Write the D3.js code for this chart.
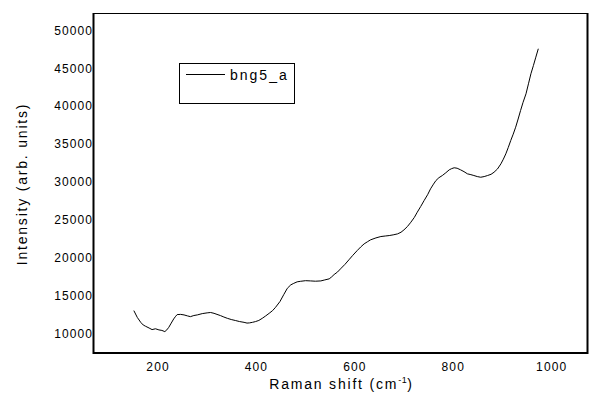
<!DOCTYPE html>
<html>
<head>
<meta charset="utf-8">
<script src="https://cdn.jsdelivr.net/npm/d3@7"></script>
<style>
  body { margin: 0; background: #fff; }
  text { font-family: "Liberation Sans", Arial, sans-serif; fill: #000; }
</style>
</head>
<body>
<script>
// values (Raman shift, intensity)
var shift = [153, 160, 167, 172, 177, 184, 190, 197, 204, 210, 216, 220, 224, 229, 234, 238, 241, 248, 255, 262, 268, 275, 282, 292, 302, 309, 316, 322,
  329, 336, 343, 351, 360, 368, 377, 383, 388, 394, 400, 407, 414, 421, 428, 435, 441, 450, 458, 465, 472, 478, 485, 492, 502, 512, 522,
  533, 541, 550, 555, 560, 567, 573, 582, 590, 598, 607, 614, 621, 628, 634, 645, 655, 664, 672, 680, 689, 696, 702, 709, 716, 723,
  729, 736, 743, 750, 756, 762, 767, 773, 780, 787, 794, 799, 804, 810, 817, 824, 831, 838, 844, 851, 858, 865, 872, 879, 885,
  892, 899, 904, 909, 914, 919, 924, 929, 934, 939, 944, 950, 955, 960, 965, 970, 975];
var intensity = [13000, 12100, 11450, 11100, 10925, 10700, 10490, 10600, 10450, 10380, 10225, 10450, 10790, 11350, 11900, 12250, 12470, 12500, 12430, 12300, 12200, 12350, 12430, 12600, 12700, 12750, 12640, 12500,
  12340, 12150, 11980, 11820, 11680, 11550, 11450, 11350, 11375, 11450, 11545, 11700, 11980, 12300, 12640, 13000, 13435, 14200, 15150, 15950, 16400, 16600, 16800, 16870, 16950, 16920, 16880,
  16920, 17050, 17190, 17450, 17760, 18100, 18510, 19100, 19700, 20300, 20930, 21400, 21810, 22100, 22340, 22600, 22780, 22850, 22910, 23000, 23130, 23350, 23660, 24100, 24670, 25300,
  25990, 26750, 27540, 28300, 29080, 29700, 30180, 30550, 30840, 31200, 31590, 31750, 31860, 31800, 31590, 31350, 31060, 30950, 30840, 30700, 30610, 30700, 30840, 31000, 31270,
  31700, 32380, 33000, 33700, 34550, 35460, 36300, 37220, 38300, 39430, 40500, 41630, 42950, 44280, 45350, 46470, 47580];
var xTicks = [200, 400, 600, 800, 1000];
var yTicks = [10000, 15000, 20000, 25000, 30000, 35000, 40000, 45000, 50000];
var seriesName = "bng5_a";

var width = 606,
    height = 400;
var margin = { left: 93, top: 13, right: 18, bottom: 47 };

var svg = d3.select("body")
    .append("svg")
    .attr("width", width)
    .attr("height", height);

var x = d3.scaleLinear()
    .domain([70, 1076])
    .range([margin.left, width - margin.right]);

var y = d3.scaleLinear()
    .domain([7400, 52300])
    .range([height - margin.bottom, margin.top]);

var points = shift.map(function(d, i) { return [d, intensity[i]]; });

// frame: thin top, heavier left/bottom/right
svg.append("line")
    .attr("x1", x.range()[0]).attr("x2", x.range()[1])
    .attr("y1", margin.top + 0.5).attr("y2", margin.top + 0.5)
    .attr("stroke", "#000").attr("stroke-width", 1);

svg.append("path")
    .attr("d", "M" + (x.range()[0] + 0.5) + "," + margin.top +
        "V" + (height - margin.bottom) +
        "H" + (x.range()[1] - 0.5) +
        "V" + margin.top)
    .attr("fill", "none")
    .attr("stroke", "#000")
    .attr("stroke-width", 2);

// x tick labels
svg.append("g")
    .attr("transform", "translate(0," + (height - margin.bottom) + ")")
    .call(d3.axisBottom(x).tickValues(xTicks).tickSize(0).tickPadding(9).tickFormat(d3.format("d")))
    .call(function(g) { g.select(".domain").remove(); })
    .selectAll("text")
    .attr("dx", "0.55px")
    .style("font-family", "Liberation Sans, Arial, sans-serif")
    .style("font-size", "12px")
    .style("letter-spacing", "1.1px");

// y tick labels
svg.append("g")
    .attr("transform", "translate(" + margin.left + ",0)")
    .call(d3.axisLeft(y).tickValues(yTicks).tickSize(0).tickPadding(0).tickFormat(d3.format("d")))
    .call(function(g) { g.select(".domain").remove(); })
    .selectAll("text")
    .style("font-family", "Liberation Sans, Arial, sans-serif")
    .style("font-size", "12px")
    .style("letter-spacing", "1.1px");

// spectrum
svg.append("path")
    .datum(points)
    .attr("fill", "none")
    .attr("stroke", "#000")
    .attr("stroke-width", 1)
    .attr("d", d3.line()
        .x(function(d) { return x(d[0]); })
        .y(function(d) { return y(d[1]); }));

// axis titles
var xt = svg.append("text")
    .attr("x", (x.range()[0] + x.range()[1]) / 2 + 1)
    .attr("y", 389)
    .attr("text-anchor", "middle")
    .style("font-size", "14px")
    .style("letter-spacing", "1.8px")
    .text("Raman shift (cm");
xt.append("tspan").attr("dy", -6).style("font-size", "9px").style("letter-spacing", "0.5px").text("-1");
xt.append("tspan").attr("dy", 6).text(")");

svg.append("text")
    .attr("transform", "translate(27," + ((y.range()[0] + y.range()[1]) / 2 + 1) + ") rotate(-90)")
    .attr("text-anchor", "middle")
    .style("font-size", "14px")
    .style("letter-spacing", "1.8px")
    .text("Intensity (arb. units)");

// legend
var legend = svg.append("g");
legend.append("rect")
    .attr("x", 179.5).attr("y", 63.5)
    .attr("width", 115).attr("height", 40)
    .attr("fill", "none").attr("stroke", "#000");
legend.append("line")
    .attr("x1", 186).attr("x2", 225)
    .attr("y1", 74.5).attr("y2", 74.5)
    .attr("stroke", "#000");
legend.append("text")
    .attr("x", 230).attr("y", 79.5)
    .style("font-size", "14px")
    .style("letter-spacing", "2px")
    .text(seriesName);
</script>
</body>
</html>
